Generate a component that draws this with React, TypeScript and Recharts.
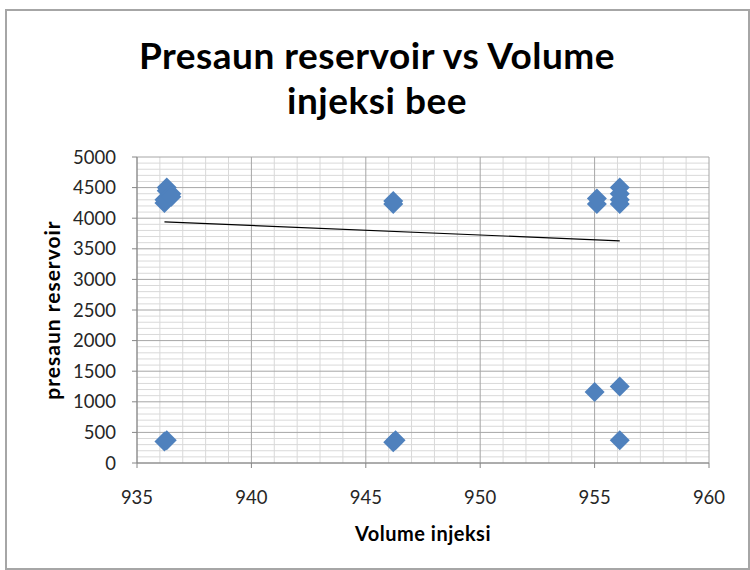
import React from 'react';
import { ScatterChart, Scatter, XAxis, YAxis, CartesianGrid, Label } from 'recharts';

const titleLines = ['Presaun reservoir vs Volume', 'injeksi bee'];
const xAxisTitle = 'Volume injeksi';
const yAxisTitle = 'presaun reservoir';

const xTicks = [935, 940, 945, 950, 955, 960];
const yTicks = [0, 500, 1000, 1500, 2000, 2500, 3000, 3500, 4000, 4500, 5000];

const injVolume = [
  936.2, 936.2, 936.3, 936.3, 936.5, 936.5, 936.2, 936.3,
  946.2, 946.2, 946.2, 946.3,
  955.1, 955.1, 955.0,
  956.1, 956.1, 956.1, 956.1, 956.1, 956.1,
];
const reservoirPressure = [
  4250, 4300, 4500, 4450, 4400, 4350, 350, 370,
  4230, 4280, 340, 370,
  4230, 4320, 1160,
  4230, 4300, 4400, 4500, 1250, 370,
];

const trendVolume = [936.2, 956.1];
const trendPressure = [3940, 3630];

const points = injVolume.map((x, i) => ({ x, y: reservoirPressure[i] }));
const trend = trendVolume.map((x, i) => ({ x, y: trendPressure[i] }));

const minorX: number[] = [];
for (let v = 935; v <= 960; v += 1) if (v % 5 !== 0) minorX.push(v);
const minorY: number[] = [];
for (let v = 0; v <= 5000; v += 100) if (v % 500 !== 0) minorY.push(v);

const FONT = 'Lato, "Open Sans", sans-serif';

const Diamond = (props: any) => {
  const { cx, cy } = props;
  if (cx == null || cy == null) return <g />;
  const r = 10;
  return (
    <polygon
      points={`${cx},${cy - r} ${cx + r},${cy} ${cx},${cy + r} ${cx - r},${cy}`}
      fill="#4F81BD"
    />
  );
};

const NoDot = () => <g />;

export default function App() {
  return (
    <div style={{ position: 'absolute', left: 0, top: 0, width: 750, height: 570, background: '#fff', fontFamily: FONT }}>
      <div
        style={{
          position: 'absolute',
          left: 5,
          top: 9,
          width: 745,
          height: 561,
          border: '2px solid #a6a6a6',
          boxSizing: 'border-box',
        }}
      />
      <div
        style={{
          position: 'absolute',
          left: 2,
          top: 32,
          width: 750,
          textAlign: 'center',
          fontSize: 37,
          fontWeight: 700,
          letterSpacing: 0.5,
          lineHeight: '45px',
          color: '#000',
        }}
      >
        {titleLines.map((t) => (
          <div key={t}>{t}</div>
        ))}
      </div>
      <div style={{ position: 'absolute', left: 0, top: 0 }}>
        <ScatterChart
          width={750}
          height={570}
          margin={{ top: 157, right: 41, bottom: 77, left: 77 }}
        >
          <CartesianGrid
            stroke="#d9d9d9"
            strokeWidth={1}
            verticalValues={minorX}
            horizontalValues={minorY}
          />
          <CartesianGrid
            stroke="#a6a6a6"
            strokeWidth={1}
            verticalValues={xTicks}
            horizontalValues={yTicks}
          />
          <XAxis
            type="number"
            dataKey="x"
            domain={[935, 960]}
            ticks={xTicks}
            interval={0}
            allowDataOverflow
            height={30}
            stroke="#868686"
            tickSize={5}
            tickMargin={23}
            tick={{ fill: '#262626', fontSize: 18.5, fontFamily: FONT }}
          >
            <Label
              value={xAxisTitle}
              position="insideBottom"
              offset={-48}
              style={{ fill: '#000', fontSize: 20, fontWeight: 700, letterSpacing: 0.5, fontFamily: FONT }}
            />
          </XAxis>
          <YAxis
            type="number"
            dataKey="y"
            domain={[0, 5000]}
            ticks={yTicks}
            interval={0}
            allowDataOverflow
            width={60}
            stroke="#868686"
            tickSize={5}
            tickMargin={16}
            tick={{ fill: '#262626', fontSize: 18.5, fontFamily: FONT }}
          >
            <Label
              value={yAxisTitle}
              angle={-90}
              position="insideLeft"
              offset={-24}
              style={{ textAnchor: 'middle', fill: '#000', fontSize: 21, fontWeight: 700, letterSpacing: 1, fontFamily: FONT }}
            />
          </YAxis>
          <Scatter data={points} shape={<Diamond />} isAnimationActive={false} />
          <Scatter
            data={trend}
            line={{ stroke: '#000', strokeWidth: 1.2 }}
            shape={<NoDot />}
            isAnimationActive={false}
          />
        </ScatterChart>
      </div>
    </div>
  );
}
